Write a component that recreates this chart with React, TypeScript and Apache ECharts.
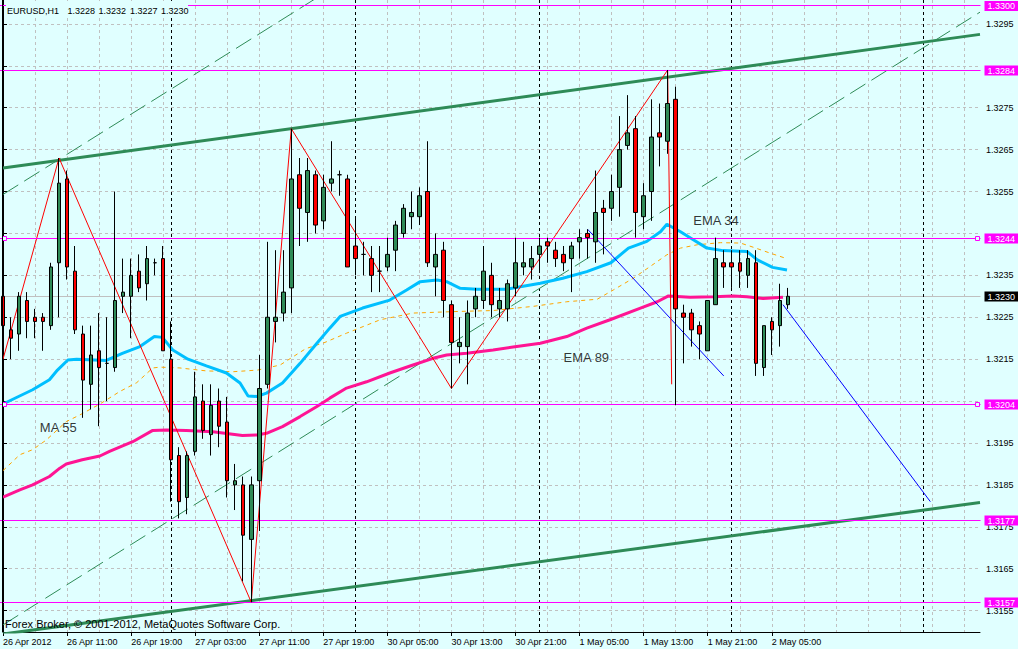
import React, { useEffect, useRef } from 'react';
import * as echarts from 'echarts';

const FONT = '"Liberation Sans", Arial, sans-serif';
const BG = '#E0FFFF';
const MAGENTA = '#FF00FF';

// x axis: hourly bars, label every 8 bars
const barCount = 123;
const labelStep = 8;
const timeLabels = [
  '26 Apr 2012', '26 Apr 11:00', '26 Apr 19:00', '27 Apr 03:00', '27 Apr 11:00',
  '27 Apr 19:00', '30 Apr 05:00', '30 Apr 13:00', '30 Apr 21:00', '1 May 05:00',
  '1 May 13:00', '1 May 21:00', '2 May 05:00',
];
const daySeparators = [21, 44, 67, 91, 115];

// y axis ticks
const yTicks = [
  1.3155, 1.3165, 1.3175, 1.3185, 1.3195, 1.3205, 1.3215, 1.3225,
  1.3235, 1.3245, 1.3255, 1.3265, 1.3275, 1.3285, 1.3295,
];
const yHiddenLabels = [1.3205, 1.3245, 1.3285];
const yMin = 1.31499;
const yMax = 1.33007;

// candles: [open, close, low, high]
const candles = [
  [1.3230, 1.3223, 1.3221, 1.3234], [1.3222, 1.3220, 1.3215, 1.3225], [1.3221, 1.3230, 1.3217, 1.3231],
  [1.3229, 1.3224, 1.3220, 1.3231], [1.3225, 1.3224, 1.3220, 1.3227], [1.3225, 1.3224, 1.3217, 1.3226],
  [1.3223, 1.3237, 1.3222, 1.3238], [1.3238, 1.3257, 1.3225, 1.3263], [1.3258, 1.3237, 1.3234, 1.3260],
  [1.3236, 1.3222, 1.3221, 1.3242], [1.3221, 1.3210, 1.3201, 1.3223], [1.3209, 1.3216, 1.3203, 1.3223],
  [1.3217, 1.3213, 1.3199, 1.3226], [1.3214, 1.3214, 1.3205, 1.3225], [1.3213, 1.3229, 1.3212, 1.3255],
  [1.3230, 1.3231, 1.3226, 1.3239], [1.3230, 1.3235, 1.3220, 1.3239], [1.3236, 1.3232, 1.3231, 1.3240],
  [1.3233, 1.3239, 1.3229, 1.3242], [1.3238, 1.3238, 1.3235, 1.3239], [1.3239, 1.3217, 1.3217, 1.3242],
  [1.3215, 1.3191, 1.3181, 1.3224], [1.3192, 1.3181, 1.3177, 1.3194], [1.3182, 1.3192, 1.3178, 1.3193],
  [1.3193, 1.3206, 1.3192, 1.3212], [1.3205, 1.3198, 1.3196, 1.3209], [1.3197, 1.3204, 1.3192, 1.3209],
  [1.3205, 1.3199, 1.3194, 1.3208], [1.3200, 1.3186, 1.3182, 1.3206], [1.3185, 1.3186, 1.3179, 1.3190],
  [1.3185, 1.3173, 1.3162, 1.3187], [1.3172, 1.3185, 1.3157, 1.3187], [1.3186, 1.3208, 1.3174, 1.3216],
  [1.3209, 1.3225, 1.3208, 1.3243], [1.3224, 1.3225, 1.3219, 1.3241], [1.3226, 1.3231, 1.3224, 1.3241],
  [1.3232, 1.3258, 1.3226, 1.3270], [1.3259, 1.3251, 1.3242, 1.3263], [1.3250, 1.3260, 1.3243, 1.3263],
  [1.3259, 1.3247, 1.3245, 1.3260], [1.3248, 1.3256, 1.3246, 1.3259], [1.3257, 1.3258, 1.3255, 1.3267],
  [1.3259, 1.3259, 1.3254, 1.3260], [1.3258, 1.3237, 1.3237, 1.3259], [1.3242, 1.3239, 1.3235, 1.3249],
  [1.3240, 1.3240, 1.3235, 1.3243], [1.3239, 1.3235, 1.3231, 1.3242], [1.3236, 1.3236, 1.3231, 1.3242],
  [1.3237, 1.3240, 1.3236, 1.3244], [1.3241, 1.3247, 1.3236, 1.3248], [1.3245, 1.3251, 1.3244, 1.3252],
  [1.3249, 1.3250, 1.3246, 1.3255], [1.3249, 1.3254, 1.3247, 1.3256], [1.3255, 1.3238, 1.3237, 1.3267],
  [1.3237, 1.3240, 1.3230, 1.3245], [1.3241, 1.3229, 1.3225, 1.3243], [1.3228, 1.3219, 1.3208, 1.3229],
  [1.3218, 1.3219, 1.3214, 1.3225], [1.3218, 1.3226, 1.3209, 1.3229], [1.3227, 1.3230, 1.3225, 1.3232],
  [1.3229, 1.3236, 1.3227, 1.3242], [1.3235, 1.3228, 1.3225, 1.3238], [1.3227, 1.3229, 1.3225, 1.3232],
  [1.3227, 1.3233, 1.3224, 1.3234], [1.3232, 1.3238, 1.3230, 1.3244], [1.3237, 1.3238, 1.3235, 1.3243],
  [1.3237, 1.3239, 1.3234, 1.3242], [1.3240, 1.3242, 1.3236, 1.3244], [1.3243, 1.3242, 1.3238, 1.3244],
  [1.3241, 1.3239, 1.3237, 1.3243], [1.3240, 1.3238, 1.3236, 1.3242], [1.3239, 1.3242, 1.3231, 1.3243],
  [1.3243, 1.3244, 1.3239, 1.3246], [1.3245, 1.3244, 1.3239, 1.3246], [1.3243, 1.3250, 1.3238, 1.3260],
  [1.3251, 1.3250, 1.3240, 1.3253], [1.3251, 1.3255, 1.3248, 1.3259], [1.3256, 1.3265, 1.3249, 1.3273],
  [1.3266, 1.3269, 1.3265, 1.3278], [1.3270, 1.3250, 1.3244, 1.3273], [1.3249, 1.3254, 1.3246, 1.3257],
  [1.3255, 1.3268, 1.3248, 1.3277], [1.3269, 1.3268, 1.3261, 1.3276], [1.3267, 1.3276, 1.3264, 1.3284],
  [1.3277, 1.3227, 1.3204, 1.3280], [1.3226, 1.3225, 1.3214, 1.3228], [1.3226, 1.3222, 1.3218, 1.3227],
  [1.3223, 1.3221, 1.3215, 1.3224], [1.3217, 1.3229, 1.3217, 1.3229], [1.3228, 1.3239, 1.3228, 1.3244],
  [1.3238, 1.3237, 1.3232, 1.3241], [1.3238, 1.3237, 1.3232, 1.3241], [1.3238, 1.3236, 1.3232, 1.3241],
  [1.3235, 1.3239, 1.3232, 1.3241], [1.3238, 1.3214, 1.3211, 1.3241], [1.3213, 1.3223, 1.3211, 1.3223],
  [1.3224, 1.3222, 1.3216, 1.3225], [1.3223, 1.3229, 1.3218, 1.3233], [1.3228, 1.3230, 1.3227, 1.3232],
];

// indicators: [bar, price]
const ema34 = [
  [0, 1.32043], [3.7, 1.32077], [5.8, 1.32101], [6.8, 1.32124], [8.1, 1.32148], [9.2, 1.3215],
  [12.9, 1.32147], [14.9, 1.32164], [17.1, 1.3218], [18.9, 1.32204], [19.9, 1.32202], [21.2, 1.32172],
  [23.1, 1.3215], [25.4, 1.32134], [27.9, 1.32117], [29.6, 1.32093], [30.6, 1.32062], [31.7, 1.32061],
  [32.9, 1.32069], [34.9, 1.32093], [37.1, 1.3214], [39.2, 1.32188], [40.8, 1.32224], [42.1, 1.32252],
  [44.9, 1.32272], [48.3, 1.32291], [50.4, 1.32315], [52.1, 1.32335], [54.2, 1.32339], [55.4, 1.32335],
  [57.1, 1.32319], [59.2, 1.32317], [62.9, 1.32317], [64.6, 1.32323], [67.1, 1.32331], [69.9, 1.32343],
  [72.9, 1.32359], [75.9, 1.3238], [78.1, 1.32415], [80.4, 1.32431], [82.1, 1.32454], [82.9, 1.32472],
  [84.6, 1.32454], [86.2, 1.32435], [87.9, 1.32415], [89.9, 1.32409], [92.9, 1.32407], [94.2, 1.32387],
  [96.1, 1.32369], [97.9, 1.32363],
];
const ema89 = [
  [0, 1.31821], [2.1, 1.31838], [3.7, 1.3185], [5.8, 1.3187], [7.1, 1.3189], [7.9, 1.319],
  [9.9, 1.3191], [12.1, 1.31919], [13.3, 1.3193], [16.2, 1.31953], [18.7, 1.3198], [20.4, 1.31981],
  [22.9, 1.3198], [26.2, 1.31977], [29.9, 1.31968], [31.7, 1.31969], [32.9, 1.31973], [34.9, 1.31989],
  [37.1, 1.32013], [39.2, 1.32037], [40.8, 1.32057], [42.9, 1.32081], [45.4, 1.32096], [48.3, 1.32117],
  [51.2, 1.32136], [53.7, 1.32152], [55.4, 1.3216], [57.9, 1.32164], [61.2, 1.32172], [63.7, 1.32179],
  [67.1, 1.32188], [70.4, 1.32204], [72.9, 1.32224], [75.8, 1.32244], [79.6, 1.32272], [81.7, 1.32287],
  [83.1, 1.32301], [85.8, 1.32298], [88.7, 1.32299], [91.2, 1.32301], [92.9, 1.32299], [94.9, 1.32295],
  [97.4, 1.32298],
];
const ma55 = [
  [0, 1.31884], [2.1, 1.31922], [3.7, 1.31934], [5.4, 1.31957], [7.9, 1.32001], [9.6, 1.32017],
  [12.1, 1.32043], [14.6, 1.32073], [16.7, 1.32094], [18.7, 1.32129], [19.6, 1.32131], [22.1, 1.32129],
  [25.4, 1.32122], [28.7, 1.3212], [31.8, 1.32124], [34.6, 1.32136], [37.8, 1.32175], [40.2, 1.3219],
  [42.9, 1.32212], [47.1, 1.32244], [51.2, 1.3226], [57.1, 1.32264], [61.2, 1.32266], [66.2, 1.32276],
  [70.4, 1.32287], [74.2, 1.32293], [76.2, 1.32315], [78.7, 1.32343], [80.8, 1.32371], [82.9, 1.32399],
  [84.6, 1.32415], [86.7, 1.32423], [89.6, 1.32428], [92.1, 1.32427], [93.7, 1.32417], [95.8, 1.32403],
  [97.7, 1.32391],
];

// drawn objects: [bar, price]
const zigzag = [[0, 1.3215], [7, 1.3263], [31, 1.3157], [36, 1.3270], [56, 1.3208], [83, 1.3284], [83.5, 1.3209]];
const channelUpper = [[0, 1.32606], [122, 1.32925]];
const channelLower = [[0, 1.31494], [122, 1.31808]];
const parallelA = [[0, 1.32543], [40, 1.33022]];
const parallelB = [[0, 1.31516], [122, 1.32978]];
const blueLine1 = [[73, 1.3246], [90, 1.3211]];
const blueLine2 = [[97.4, 1.3228], [115.8, 1.3181]];

const hLevels = [1.32995, 1.3284, 1.3244, 1.32043, 1.31767, 1.3157];
const hLevelLabels = ['1.3300', '1.3284', '1.3244', '1.3204', '1.3177', '1.3157'];
const markedLevels = [1.3244, 1.32043];
const lastPrice = 1.3230;

const symbolName = 'EURUSD,H1';
const copyright = 'Forex Broker, © 2001-2012, MetaQuotes Software Corp.';
const textNotes = [
  { text: 'MA 55', bar: 4.6, price: 1.31988 },
  { text: 'EMA 89', bar: 70, price: 1.32155 },
  { text: 'EMA 34', bar: 86.2, price: 1.32482 },
];

const categories = Array.from({ length: barCount }, (_, i) => String(i));

export default function App() {
  const ref = useRef<HTMLDivElement>(null);
  useEffect(() => {
    if (!ref.current) return;
    const chart = echarts.init(ref.current, undefined, { renderer: 'svg' });
    const last = candles[candles.length - 1];
    const headerParts = [symbolName, ...[last[0], last[3], last[2], last[1]].map((v) => v.toFixed(4))];
    const headerX = [7, 67.5, 98.5, 130, 161];
    const isLabelIdx = (i: number) => i % labelStep === 0 && i / labelStep < timeLabels.length;

    const simpleLine = (data: number[][], color: string, width: number, type: any, z: number) => ({
      type: 'line', xAxisIndex: 1, yAxisIndex: 0, data, symbol: 'none', showSymbol: false,
      lineStyle: { color, width, type }, itemStyle: { color }, z, silent: true,
    });

    const baseGraphic: any[] = [
      { id: 'lborder', type: 'line', z: 50, shape: { x1: 2.5, y1: 0, x2: 2.5, y2: 632 }, style: { stroke: '#000', lineWidth: 1 } },
      { id: 'hdrbg', type: 'rect', z: 99, shape: { x: 6, y: 1, width: 182, height: 17 }, style: { fill: BG } },
      ...headerParts.map((t, i) => ({
        id: 'hdr' + i, type: 'text', z: 100, x: headerX[i], y: 10.5,
        style: { text: t, font: '9px ' + FONT, fill: '#000', verticalAlign: 'middle' },
      })),
      {
        id: 'copy', type: 'text', z: 100, x: 5, y: 623.5,
        style: { text: copyright, font: '11px ' + FONT, fill: '#000', verticalAlign: 'middle' },
      },
    ];

    const option: any = {
      animation: false,
      backgroundColor: BG,
      textStyle: { fontFamily: FONT },
      grid: { left: 3, right: 38, top: 0, bottom: 17, containLabel: false },
      xAxis: [
        {
          type: 'category', data: categories, boundaryGap: false, position: 'bottom',
          axisLine: { show: true, lineStyle: { color: '#000', width: 1 } },
          axisTick: { show: true, interval: (i: number) => isLabelIdx(i), length: 4, lineStyle: { color: '#000' } },
          axisLabel: {
            interval: (i: number) => isLabelIdx(i),
            formatter: (_v: string, i: number) => timeLabels[i / labelStep] ?? '',
            align: 'left', fontSize: 9, color: '#000', margin: 5, fontFamily: FONT,
          },
          splitLine: { show: true, interval: 3, lineStyle: { color: '#C0C0C0', type: [3, 3], width: 1 } },
        },
        { type: 'value', min: 0, max: barCount - 1, show: false },
      ],
      yAxis: [
        {
          type: 'value', position: 'right', min: yMin, max: yMax,
          axisLine: { show: true, lineStyle: { color: '#000', width: 1 } },
          axisTick: { show: true, length: 4, customValues: yTicks, lineStyle: { color: '#000' } },
          axisLabel: {
            customValues: yTicks.filter((v) => !yHiddenLabels.includes(v)),
            formatter: (v: number) => v.toFixed(4), fontSize: 9, color: '#000', margin: 6, fontFamily: FONT,
          },
          splitLine: { show: true, lineStyle: { color: '#C0C0C0', type: [3, 3], width: 1 } },
        },
      ],
      graphic: baseGraphic,
      series: [
        simpleLine(parallelB, '#2E8B57', 1, [18, 7], 2),
        simpleLine(parallelA, '#2E8B57', 1, [18, 7], 2),
        simpleLine(channelUpper, '#2E8B57', 3, 'solid', 3),
        simpleLine(channelLower, '#2E8B57', 3, 'solid', 3),
        simpleLine(ma55, '#FFA500', 1, [4, 4], 3),
        simpleLine(ema34, '#00BFFF', 3, 'solid', 4),
        simpleLine(ema89, '#FF1493', 3, 'solid', 4),
        simpleLine(blueLine1, '#0000FF', 1, 'solid', 4),
        simpleLine(blueLine2, '#0000FF', 1, 'solid', 4),
        simpleLine(zigzag, '#FF0000', 1, 'solid', 5),
        {
          type: 'candlestick', xAxisIndex: 0, yAxisIndex: 0, data: candles, barWidth: 4, z: 10, silent: true,
          itemStyle: { color: '#2E8B57', color0: '#FF0000', borderColor: '#000', borderColor0: '#000', borderColorDoji: '#000', borderWidth: 1 },
        },
        {
          type: 'scatter', xAxisIndex: 1, yAxisIndex: 0, z: 12, silent: true,
          data: textNotes.map((t) => ({ value: [t.bar, t.price], name: t.text })),
          symbolSize: 0,
          label: { show: true, position: 'right', distance: 0, formatter: (p: any) => p.name, fontSize: 13, color: '#000', fontFamily: FONT },
        },
      ],
    };
    chart.setOption(option);

    // crisp horizontal levels and day separators placed through the chart's own scales
    const crisp = (p: number) => Math.round(p) + 0.5;
    const xLeft = Math.floor(chart.convertToPixel({ xAxisIndex: 1 }, 0) as number) - 0.5;
    const xRight = Math.floor(chart.convertToPixel({ xAxisIndex: 1 }, barCount - 1) as number) + 0.5;
    const yTop = chart.convertToPixel({ yAxisIndex: 0 }, yMax) as number;
    const yBottom = chart.convertToPixel({ yAxisIndex: 0 }, yMin) as number;
    const extra: any[] = [];

    daySeparators.forEach((b, i) => {
      const x = Math.floor(chart.convertToPixel({ xAxisIndex: 1 }, b) as number) + 0.5;
      extra.push({
        id: 'day' + i, type: 'line', z: 2, silent: true,
        shape: { x1: x, y1: yTop, x2: x, y2: yBottom },
        style: { stroke: '#000', lineWidth: 1, lineDash: [3, 3] },
      });
    });

    const yLast = crisp(chart.convertToPixel({ yAxisIndex: 0 }, lastPrice) as number);
    extra.push({
      id: 'lastline', type: 'line', z: 1, silent: true,
      shape: { x1: xLeft, y1: yLast, x2: xRight, y2: yLast },
      style: { stroke: '#C0C0C0', lineWidth: 1 },
    });
    extra.push({
      id: 'lastlabel', type: 'text', z: 60, silent: true, x: xRight + 4, y: yLast,
      style: {
        text: lastPrice.toFixed(4), font: '9px ' + FONT, fill: '#ffffff', backgroundColor: '#000000',
        padding: [1, 3, 0, 3], verticalAlign: 'middle',
      },
    });

    hLevels.forEach((v, i) => {
      const y = crisp(chart.convertToPixel({ yAxisIndex: 0 }, v) as number);
      extra.push({
        id: 'lvl' + i, type: 'line', z: 6, silent: true,
        shape: { x1: xLeft - 3, y1: y, x2: xRight, y2: y },
        style: { stroke: MAGENTA, lineWidth: 1 },
      });
      extra.push({
        id: 'lvllabel' + i, type: 'text', z: 60, silent: true, x: xRight + 4, y: Math.max(y, 6),
        style: {
          text: hLevelLabels[i], font: '9px ' + FONT, fill: '#ffffff', backgroundColor: MAGENTA,
          padding: [1, 3, 0, 3], verticalAlign: 'middle',
        },
      });
      if (markedLevels.includes(v)) {
        [xLeft + 2.5, xRight - 3].forEach((sx, k) => {
          extra.push({
            id: 'lvlsq' + i + '_' + k, type: 'rect', z: 7, silent: true,
            shape: { x: Math.round(sx) - 2.5, y: y - 2, width: 4, height: 4 },
            style: { fill: BG, stroke: MAGENTA, lineWidth: 1 },
          });
        });
      }
    });

    chart.setOption({ graphic: [...baseGraphic, ...extra] });
    return () => chart.dispose();
  }, []);
  return <div ref={ref} style={{ position: 'absolute', left: 0, top: 0, width: 1018, height: 649 }} />;
}
